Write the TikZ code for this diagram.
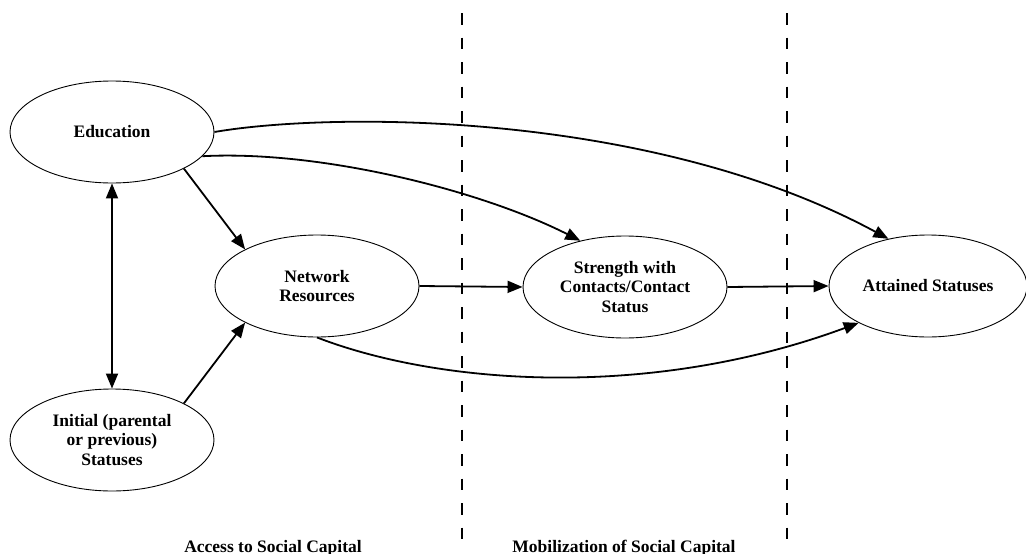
\documentclass[tikz,border=0pt]{standalone}
\usepackage{fontspec}
\setmainfont{Liberation Serif}
\usetikzlibrary{shapes.geometric,arrows.meta}
\begin{document}
\begin{tikzpicture}[x=1pt,y=-1pt,
  factor/.style={ellipse,draw,line width=0.9pt,inner sep=0pt,
    minimum width=204pt,minimum height=102pt,align=center,
    font=\fontsize{17.5}{19.5}\selectfont\bfseries},
  link/.style={line width=1.8pt,-{Triangle[length=15pt,width=12pt]}},
  bilink/.style={line width=1.8pt,{Triangle[length=15pt,width=12pt]}-{Triangle[length=15pt,width=12pt]}},
  divider/.style={line width=2pt,dash pattern=on 11.5pt off 13pt},
  caption/.style={anchor=base,inner sep=0pt,font=\fontsize{17.5}{19.5}\selectfont\bfseries}]
\useasboundingbox (0,0) rectangle (1026,554);

% stage dividers
\coordinate (d1top) at (462,13);
\coordinate (d1bot) at (462,540);
\coordinate (d2top) at (787,13);
\coordinate (d2bot) at (787,540);
\draw[divider] (d1top) -- (d1bot);
\draw[divider] (d2top) -- (d2bot);

% factors
\node[factor] (edu) at (112,132) {Education};
\node[factor] (ini) at (112,440) {Initial (parental\\or previous)\\Statuses};
\node[factor] (net) at (317,286) {Network\\Resources};
\node[factor] (str) at (625,287) {Strength with\\Contacts/Contact\\Status};
\node[factor,minimum width=198pt] (att) at (928,286) {Attained Statuses};

% paths
\draw[bilink] (edu.south) -- (ini.north);
\draw[link] (edu.-27) -- (net.153);
\draw[link] (ini.27) -- (net.207);
\draw[link] (net.east) -- (str.west);
\draw[link] (str.east) -- (att.west);
\draw[link] (edu.east) .. controls (330,112) and (650,110) .. (att.130.5);
\draw[link] (edu.-15) .. controls (320,150) and (480,190) .. (str.134);
\draw[link] (net.south) .. controls (440,385) and (650,400) .. (att.208.5);

% stage captions
\node[caption] (acc) at (273,552) {Access to Social Capital};
\node[caption] (mob) at (624,552) {Mobilization of Social Capital};
\end{tikzpicture}
\end{document}
